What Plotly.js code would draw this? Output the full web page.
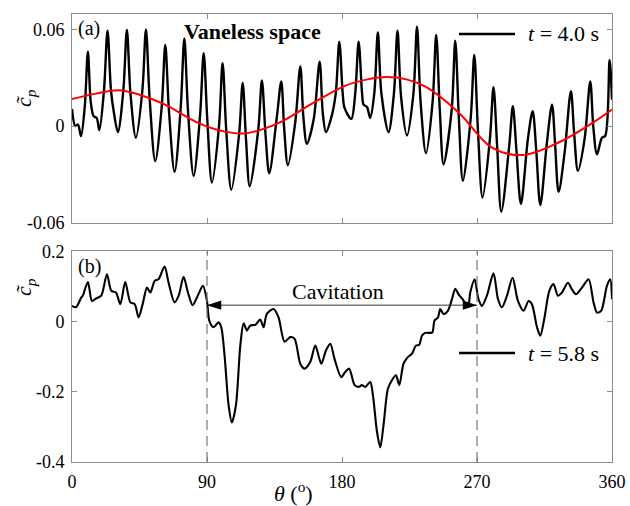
<!DOCTYPE html>
<html>
<head>
<meta charset="utf-8">
<script src="https://cdn.plot.ly/plotly-3.0.1.min.js"></script>
<style>html,body{margin:0;padding:0;background:#fff}#chart{width:630px;height:506px}</style>
</head>
<body>
<div id="chart"></div>
<script>
// (a) vaneless space, t = 4.0 s
const thetaA = [0,2.2,4,6,8.5,10.6,12.5,14.4,16.5,18.2,21.3,23.7,26,28,30.6,34.2,36.6,39,42.6,46.9,49.3,51.7,55.5,59.8,62.2,64.6,68.4,72.5,74.9,77.3,81.1,85.4,87.8,90.2,93.3,98,100.4,102.8,106.2,111.4,113.8,116,118.5,124.2,126.6,129,131.5,136.6,139.5,141.5,143.9,148.8,152.2,154.3,156.6,161.1,165.1,167.2,169.3,172.8,175.8,178.2,180.5,181.7,186.2,188.8,191.1,193.4,194.4,196.6,198.8,201.5,203.9,206.3,211,214.6,217,219.4,223.3,227.6,230,232.4,236,240.4,242.8,245.2,247.7,253.1,255.5,257.9,260.6,265.8,268.2,270.6,273.7,278.6,281,283.4,286.2,291.5,293.9,296.3,299.3,303.9,307.1,309.5,312.2,316.6,320,322,324.4,328.4,332.6,334.8,337.3,341.7,345.5,347.5,350,353.3,355.5,358.4,360];
const cpA = [0.0107,0.000,0.001,-0.0062,0.012,0.0462,0.015,0.0062,0.005,-0.0025,0.022,0.0592,0.022,0.008,-0.0037,0.022,0.0596,0.020,-0.0072,0.022,0.060,0.018,-0.0216,0.012,0.0503,0.010,-0.0283,0.012,0.0544,0.010,-0.0308,0.007,0.0452,0.004,-0.0349,0.000,0.039,-0.002,-0.0394,-0.005,0.0267,-0.008,-0.0373,-0.002,0.0283,-0.005,-0.0292,0.006,0.0277,-0.002,-0.0242,0.002,0.037,0.005,-0.0109,0.0041,0.040,0.008,-0.0037,0.0051,0.020,0.0524,0.020,0.0113,0.0045,0.020,0.0524,0.020,0.0133,0.012,0.0051,0.020,0.058,0.020,-0.0037,0.020,0.0592,0.018,-0.0058,0.020,0.0616,0.015,-0.0168,0.015,0.0565,0.010,-0.0236,0.010,0.053,0.005,-0.0339,0.005,0.0442,-0.002,-0.0442,-0.008,0.0242,-0.012,-0.053,-0.012,0.0123,-0.015,-0.0483,-0.0082,0.0092,-0.015,-0.0489,-0.0103,0.0133,-0.010,-0.0407,-0.0164,0.0216,-0.005,-0.0277,-0.0082,0.0277,0.000,-0.0175,-0.0072,-0.006,0.041,0.0164];
// low-frequency component (red)
const thetaRed = [0,15,31,45,62,84,100,115,138,160,182,197,210,223,236,258,280,300,324,347,360];
const cpRed = [0.0168,0.0200,0.0222,0.0195,0.0133,0.0020,-0.0030,-0.0045,0.0020,0.0140,0.0250,0.0290,0.0304,0.0290,0.0243,0.0082,-0.0133,-0.0179,-0.0103,0.0020,0.0103];
// (b) t = 5.8 s
const thetaB = [0,2.6,6.2,7.2,10.6,13.3,16,19.5,23.3,26.2,29.3,32.2,35.5,38.9,41.8,44.4,47.1,50,52.2,55.1,57.7,61.7,64.4,68.4,71.1,74.4,77.3,80.4,83.3,87.3,90,91.5,94.4,97.7,99.5,101.7,104.4,106.6,109.3,112.2,114.4,116.6,118.8,122.2,125.5,127.7,129.9,134.4,137.7,141.7,145.5,148.4,152.2,155,158.8,162.2,166.2,169.3,172.2,175,179.5,182.2,184.8,188.4,191,193.3,195.5,198.8,200.6,203.3,205.5,207.7,210.6,213.3,216,218.2,221,223.9,226.6,229.3,231.5,233.3,235.5,238.8,240.3,241.7,244,245.5,247.7,250.6,253.3,255.5,257.7,260.4,264,265.5,268.4,271,273.3,276.6,281,284,286.6,290,293.7,297.3,301,304.4,306.6,310,312.2,315,318.2,321,324,326.6,330.6,333.3,336,340,344.4,347.7,350,352.8,356.6,358.8,360];
const cpB = [0.045,0.041,0.069,0.074,0.113,0.059,0.066,0.074,0.135,0.088,0.083,0.050,0.113,0.055,0.050,0.012,0.050,0.097,0.083,0.116,0.121,0.157,0.111,0.055,0.074,0.128,0.083,0.047,0.069,0.102,0.059,0.003,-0.016,-0.002,-0.016,-0.096,-0.238,-0.287,-0.238,-0.068,-0.005,-0.025,-0.011,-0.009,0.006,-0.016,0.022,0.036,0.012,-0.057,-0.044,-0.049,-0.120,-0.134,-0.115,-0.068,-0.120,-0.082,-0.063,-0.106,-0.158,-0.143,-0.134,-0.181,-0.186,-0.181,-0.186,-0.172,-0.209,-0.313,-0.358,-0.294,-0.191,-0.167,-0.153,-0.181,-0.120,-0.101,-0.092,-0.068,-0.066,-0.040,-0.032,-0.032,-0.030,0.003,0.012,0.036,0.022,0.031,0.064,0.094,0.078,0.064,0.041,0.083,0.121,0.064,0.045,0.074,0.138,0.064,0.041,0.074,0.125,0.059,0.031,0.059,0.050,-0.016,-0.040,0.012,0.088,0.107,0.074,0.083,0.111,0.092,0.078,0.097,0.121,0.055,0.026,0.031,0.102,0.121,0.064];
const xTicks = [0,90,180,270,360];
const yTicksA = [-0.06,0,0.06], yTextA = ['-0.06','0','0.06'];
const yTicksB = [-0.4,-0.2,0,0.2], yTextB = ['-0.4','-0.2','0','0.2'];
const cavBounds = [90, 270], cavLevel = [0.047, 0.047];
const legendA = 't = 4.0 s', legendB = 't = 5.8 s';

const FONT = '"Times New Roman", "Liberation Serif", "DejaVu Serif", serif';
const GRAY = '#8c8c8c';
const traces = [
  {x: thetaA, y: cpA, xaxis:'x', yaxis:'y', mode:'lines', line:{color:'#000', width:2.4, shape:'spline', smoothing:0.9}, showlegend:false, name:legendA},
  {x: thetaRed, y: cpRed, xaxis:'x', yaxis:'y', mode:'lines', line:{color:'#ff0000', width:2, shape:'spline'}, showlegend:false},
  {x: thetaB, y: cpB, xaxis:'x2', yaxis:'y2', mode:'lines', line:{color:'#000', width:2.1, shape:'spline', smoothing:0.8}, showlegend:false, name:legendB},
  // cavitation double arrow
  {x: cavBounds, y: cavLevel, xaxis:'x2', yaxis:'y2', mode:'lines+markers', line:{color:'#333', width:1},
   marker:{symbol:'arrow', angle:[-90, 90], size:15, color:'#000', line:{width:0}}, showlegend:false, hoverinfo:'skip'}
];
const axBase = {showline:true, mirror:'ticks', linecolor:GRAY, linewidth:1, ticks:'inside', ticklen:5, tickcolor:GRAY, showgrid:false, zeroline:false, tickfont:{family:FONT, size:18, color:'#000'}};
const layout = {
  width:630, height:506,
  margin:{l:72, r:18, t:14, b:44},
  paper_bgcolor:'#fff', plot_bgcolor:'#fff',
  font:{family:FONT, color:'#000'},
  showlegend:false,
  xaxis: Object.assign({}, axBase, {domain:[0,1], range:[0,360], tickvals:xTicks, showticklabels:false, anchor:'y'}),
  yaxis: Object.assign({}, axBase, {domain:[0.5335,1], range:[-0.06,0.0695], tickvals:yTicksA, ticktext:yTextA, anchor:'x', ticklabelstandoff:3}),
  xaxis2: Object.assign({}, axBase, {domain:[0,1], range:[0,360], tickvals:xTicks, ticktext:xTicks.map(String), anchor:'y2', ticklabelstandoff:3}),
  yaxis2: Object.assign({}, axBase, {domain:[0,0.4699], range:[-0.4,0.2], tickvals:yTicksB, ticktext:yTextB, anchor:'x2', ticklabelstandoff:3}),
  shapes: [
    {type:'line', xref:'x2', yref:'y2 domain', x0:cavBounds[0], x1:cavBounds[0], y0:0, y1:1, line:{color:'#777', width:1.2, dash:'10px,6px'}},
    {type:'line', xref:'x2', yref:'y2 domain', x0:cavBounds[1], x1:cavBounds[1], y0:0, y1:1, line:{color:'#777', width:1.2, dash:'10px,6px'}},
    // legend samples
    {type:'line', xref:'paper', yref:'paper', x0:(459-72)/540, x1:(515-72)/540, y0:(462-34)/448, y1:(462-34)/448, line:{color:'#000', width:2.4}},
    {type:'line', xref:'paper', yref:'paper', x0:(459-72)/540, x1:(515-72)/540, y0:(462-353)/448, y1:(462-353)/448, line:{color:'#000', width:2.4}}
  ],
  annotations: [
    {xref:'paper', yref:'paper', x:(526-72)/540, y:(462-34)/448, xanchor:'left', yanchor:'middle', showarrow:false, text:'<i>t</i> = 4.0 s', font:{family:FONT, size:22}},
    {xref:'paper', yref:'paper', x:(526-72)/540, y:(462-353)/448, xanchor:'left', yanchor:'middle', showarrow:false, text:'<i>t</i> = 5.8 s', font:{family:FONT, size:22}},
    {xref:'paper', yref:'paper', x:(76-72)/540, y:(462-28)/448, xanchor:'left', yanchor:'middle', showarrow:false, text:'(a)', font:{family:FONT, size:20}},
    {xref:'paper', yref:'paper', x:(76-72)/540, y:(462-266)/448, xanchor:'left', yanchor:'middle', showarrow:false, text:'(b)', font:{family:FONT, size:20}},
    {xref:'paper', yref:'paper', x:(252-72)/540, y:(462-31)/448, xanchor:'center', yanchor:'middle', showarrow:false, text:'<b>Vaneless space</b>', font:{family:FONT, size:22}},
    {xref:'x2', yref:'paper', x:(cavBounds[0]+cavBounds[1])/2 - 3, y:(462-291)/448, xanchor:'center', yanchor:'middle', showarrow:false, text:'Cavitation', font:{family:FONT, size:22}},
    {xref:'paper', yref:'paper', x:(25-72)/540, y:(462-98)/448, xanchor:'center', yanchor:'middle', showarrow:false, textangle:-90, text:'<i>c\u0303</i><sub><i>p</i></sub>', font:{family:FONT, size:22}},
    {xref:'paper', yref:'paper', x:(25-72)/540, y:(462-287)/448, xanchor:'center', yanchor:'middle', showarrow:false, textangle:-90, text:'<i>c\u0303</i><sub><i>p</i></sub>', font:{family:FONT, size:22}},
    {xref:'paper', yref:'paper', x:(293-72)/540, y:(462-492)/448, xanchor:'center', yanchor:'middle', showarrow:false, text:'<i>θ</i> (<sup>o</sup>)', font:{family:FONT, size:22}}
  ]
};
Plotly.newPlot('chart', traces, layout, {staticPlot:true, displayModeBar:false});
</script>
</body>
</html>
